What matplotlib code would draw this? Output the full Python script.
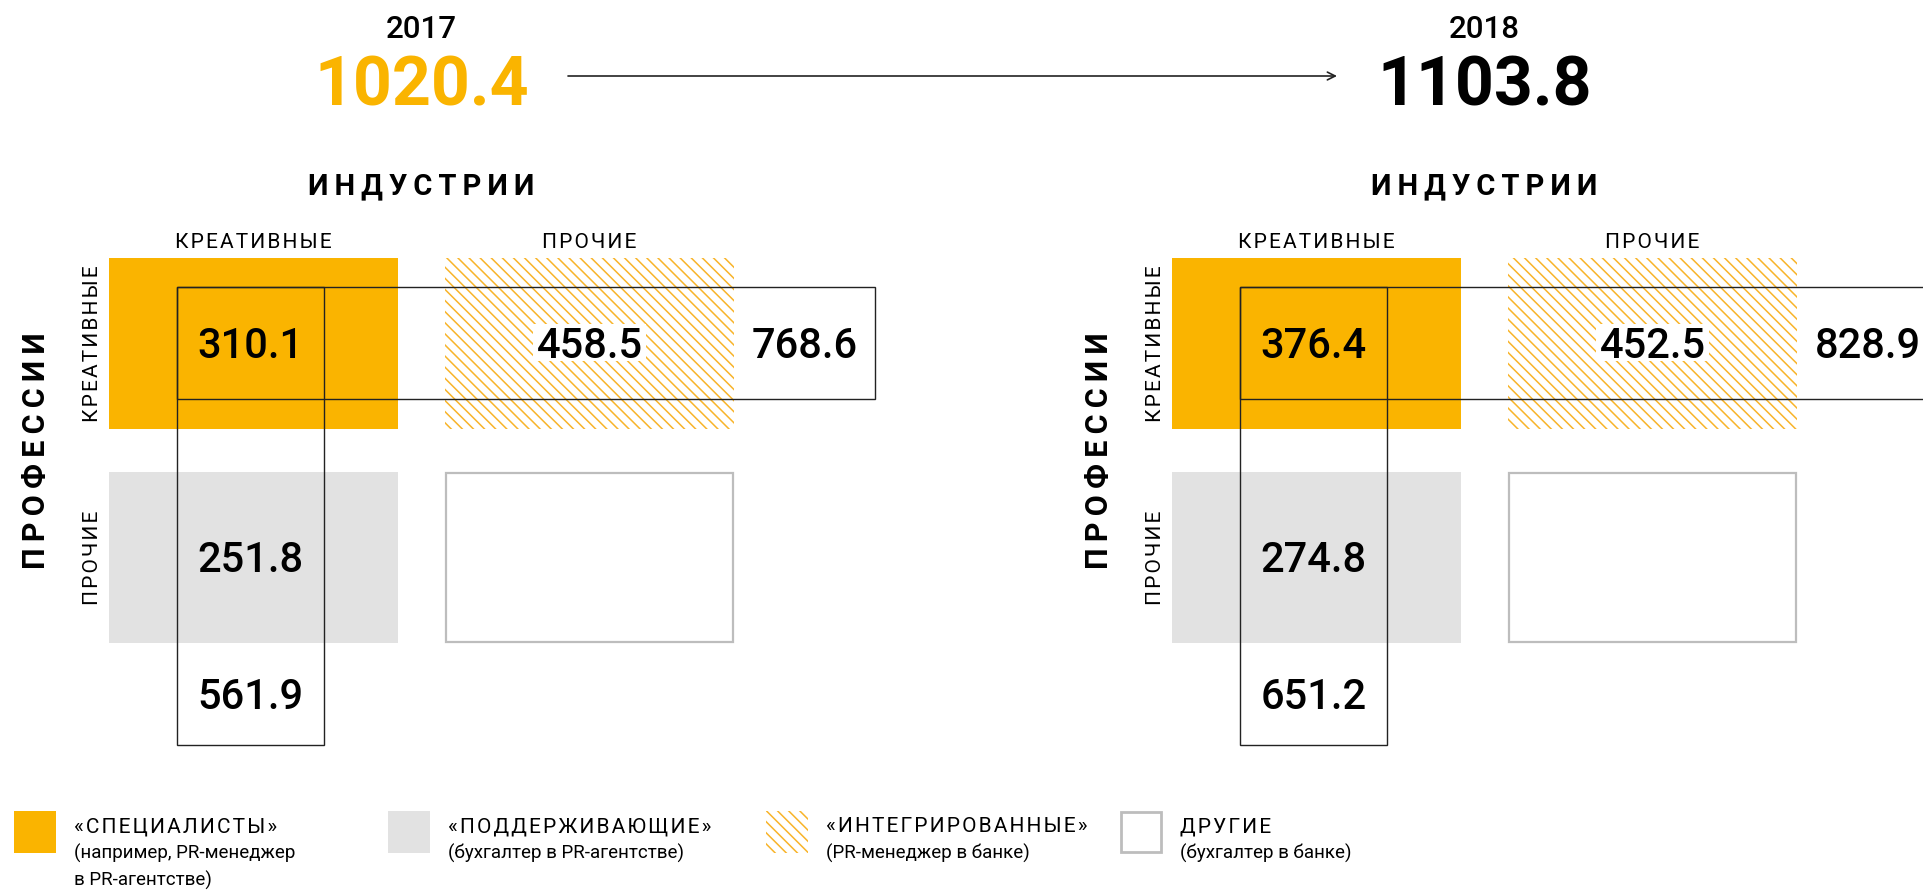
import matplotlib.pyplot as plt
from matplotlib.patches import Rectangle

plt.rcParams.update({
    "font.family": ["Roboto", "DejaVu Sans"],
    "hatch.linewidth": 1.1,
})

YELLOW = "#FAB400"
HATCH = "#F8B42A"
GRAY = "#E2E2E2"
LINE = "#222222"
HS = "\u200a"  # hair space for letter spacing

# data
years = ["2017", "2018"]
totals = [1020.4, 1103.8]
specialists = [310.1, 376.4]       # creative professions, creative industries
integrated = [458.5, 452.5]        # creative professions, other industries
supporting = [251.8, 274.8]        # other professions, creative industries
creative_prof = [768.6, 828.9]     # row total
creative_ind = [561.9, 651.2]      # column total
total_colors = [YELLOW, "black"]

col_labels = ["КРЕАТИВНЫЕ", "ПРОЧИЕ"]
row_labels = ["КРЕАТИВНЫЕ", "ПРОЧИЕ"]
legend_titles = ["«СПЕЦИАЛИСТЫ»", "«ПОДДЕРЖИВАЮЩИЕ»", "«ИНТЕГРИРОВАННЫЕ»", "ДРУГИЕ"]
legend_notes = ["(например, PR-менеджер\nв PR-агентстве)", "(бухгалтер в PR-агентстве)",
                "(PR-менеджер в банке)", "(бухгалтер в банке)"]


def spaced(s, sep=HS):
    return sep.join(s)


fig = plt.figure(figsize=(19.24, 8.92), dpi=100)
ax = fig.add_axes([0, 0, 1, 1])
ax.set_xlim(0, 1924)
ax.set_ylim(892, 0)
ax.axis("off")
renderer = fig.canvas.get_renderer()

# panel geometry (pixels)
cx = [109, 445]
ry = [258, 472]
cw, ch = 289, 171
ox_list = [0, 1063]
num_kw = dict(fontsize=30, fontweight="medium", ha="center", va="baseline", zorder=5)


def white_behind(t):
    bb = t.get_window_extent(renderer).transformed(ax.transData.inverted())
    x0, x1 = min(bb.x0, bb.x1), max(bb.x0, bb.x1)
    xb, yb = t.get_position()
    ax.add_patch(Rectangle((x0 - 3, yb - 34), x1 - x0 + 6, 37, facecolor="white",
                           edgecolor="none", zorder=4))


def hatched(xy, w, h, **kw):
    return Rectangle(xy, w, h, facecolor="white", edgecolor=HATCH, hatch="\\\\\\",
                     lw=0, **kw)


for i, ox in enumerate(ox_list):
    pc = ox + (cx[0] + cx[1] + cw) / 2
    ax.text(pc, 38, years[i], fontsize=22.5, fontweight="medium", ha="center", va="baseline")
    ax.text(pc, 105, f"{totals[i]:.1f}", fontsize=49, fontweight="bold",
            color=total_colors[i], ha="center", va="baseline")
    ax.text(pc, 194, spaced("ИНДУСТРИИ", "\u2009"), fontsize=21, fontweight="bold",
            ha="center", va="baseline")
    for j in range(2):
        ax.text(ox + cx[j] + cw / 2, 248, spaced(col_labels[j]), fontsize=15,
                ha="center", va="baseline")
        ax.text(ox + 98, ry[j] + ch / 2, spaced(row_labels[j]), fontsize=15,
                rotation=90, rotation_mode="anchor", ha="center", va="baseline")
    ax.text(ox + 45, (ry[0] + ry[1] + ch) / 2, spaced("ПРОФЕССИИ", "\u2009"), fontsize=22,
            fontweight="bold", rotation=90, rotation_mode="anchor",
            ha="center", va="baseline")

    # cells
    ax.add_patch(Rectangle((ox + cx[0], ry[0]), cw, ch, facecolor=YELLOW, edgecolor="none", zorder=1))
    ax.add_patch(hatched((ox + cx[1], ry[0]), cw, ch, zorder=1))
    ax.add_patch(Rectangle((ox + cx[0], ry[1]), cw, ch, facecolor=GRAY, edgecolor="none", zorder=1))
    ax.add_patch(Rectangle((ox + cx[1] + 1, ry[1] + 1), cw - 2, ch - 2, facecolor="white",
                           edgecolor="#BDBDBD", lw=1.6, zorder=1))

    # outline boxes for totals
    bx0, bx1 = ox + 177, ox + 324
    by0, by1 = 287, 399
    ax.add_patch(Rectangle((bx0, by0), 875 - 177, by1 - by0, fill=False,
                           edgecolor=LINE, lw=1.0, zorder=3))
    ax.add_patch(Rectangle((bx0, by0), bx1 - bx0, 745 - by0, fill=False,
                           edgecolor=LINE, lw=1.0, zorder=3))

    ymid = (by0 + by1) / 2 + 15
    ax.text((bx0 + bx1) / 2, ymid, f"{specialists[i]:.1f}", **num_kw)
    t = ax.text(ox + cx[1] + cw / 2, ymid, f"{integrated[i]:.1f}", **num_kw)
    white_behind(t)
    ax.text(ox + (cx[1] + cw + 875) / 2, ymid, f"{creative_prof[i]:.1f}", **num_kw)
    ax.text((bx0 + bx1) / 2, ry[1] + ch / 2 + 15, f"{supporting[i]:.1f}", **num_kw)
    ax.text((bx0 + bx1) / 2, (ry[1] + ch + 745) / 2 + 15, f"{creative_ind[i]:.1f}", **num_kw)

# arrow between years
ax.annotate("", xy=(1337, 76), xytext=(568, 76),
            arrowprops=dict(arrowstyle="->", lw=1.2, color=LINE, mutation_scale=14,
                            shrinkA=0, shrinkB=0))

# legend
lx = [14, 388, 766, 1120]
sw = 42
for k in range(4):
    if k == 0:
        p = Rectangle((lx[k], 811), sw, sw, facecolor=YELLOW, edgecolor="none")
    elif k == 1:
        p = Rectangle((lx[k], 811), sw, sw, facecolor=GRAY, edgecolor="none")
    elif k == 2:
        p = hatched((lx[k], 811), sw, sw)
    else:
        p = Rectangle((lx[k] + 1, 812), sw - 2, sw - 2, facecolor="white",
                      edgecolor="#BDBDBD", lw=2)
    ax.add_patch(p)
    ax.text(lx[k] + 60, 832, spaced(legend_titles[k]), fontsize=15, ha="left", va="baseline")
    for n, line in enumerate(legend_notes[k].split("\n")):
        ax.text(lx[k] + 60, 859 + 27 * n, line, fontsize=13.5, ha="left", va="baseline")

fig.savefig("out.png", dpi=100)
